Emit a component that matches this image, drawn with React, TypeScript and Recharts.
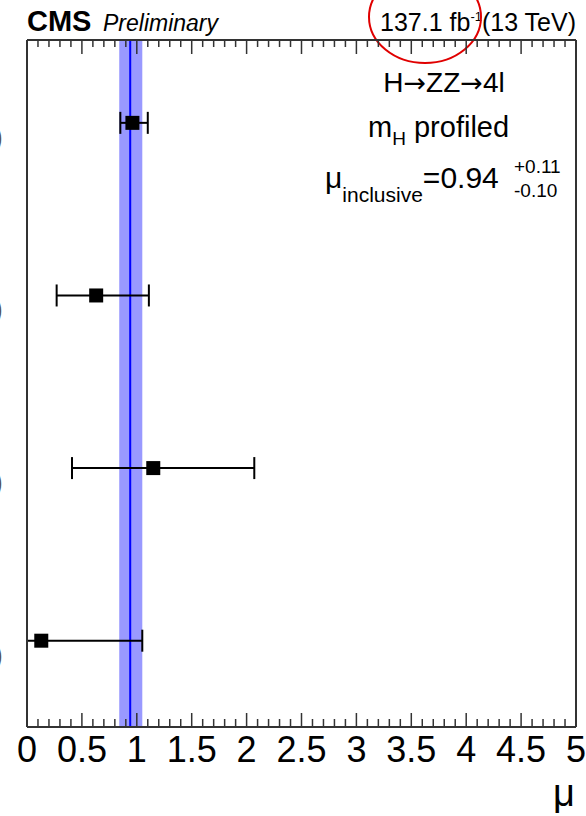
import React from "react";
import { ScatterChart, Scatter, XAxis, YAxis, ErrorBar, ReferenceArea, ReferenceLine } from "recharts";

const font = "'Liberation Sans', Arial, Helvetica, sans-serif";

// rows from top to bottom; only the closing brackets of the row labels are visible
const rowLabels = [")", ")", ")", ")"];
const rowPos = [4, 3, 2, 1];
const muValues = [0.96, 0.63, 1.15, 0.13];
const muLow = [0.85, 0.27, 0.41, 0.0];
const muHigh = [1.1, 1.11, 2.07, 1.05];

const muInclusive = 0.94;
const muInclusiveDown = 0.1;
const muInclusiveUp = 0.11;

const majorTicks = [0, 0.5, 1, 1.5, 2, 2.5, 3, 3.5, 4, 4.5, 5];
const allTicks = Array.from({ length: 51 }, (_, i) => i / 10);
const rowDomain = [0.5, 4.48];

const points = muValues.map((mu, i) => ({
  mu,
  row: rowPos[i],
  err: [mu - muLow[i], muHigh[i] - mu],
}));

const frameTop = 40;
const frameBottom = 727;
const rowPerPx = (rowDomain[1] - rowDomain[0]) / (frameBottom - frameTop);
const isMajor = (v: number) => majorTicks.some((m) => Math.abs(m - v) < 1e-6);

function BottomTick({ x, y, payload }: any) {
  const major = isMajor(payload.value);
  return (
    <g>
      <line x1={x} x2={x} y1={y} y2={y - (major ? 14 : 8)} stroke="#333" strokeWidth={1.5} />
      {major && (
        <text x={x} y={y + 35} textAnchor="middle" fontSize={36} fontFamily={font} fill="#000">
          {String(payload.value)}
        </text>
      )}
    </g>
  );
}

function RowTick({ y, payload }: any) {
  return (
    <text x={3} y={y + 24} textAnchor="end" fontSize={30} fontFamily={font} fill="#555">
      {rowLabels[rowPos.indexOf(payload.value)]}
    </text>
  );
}

const Square = ({ cx, cy }: any) => <rect x={cx - 7} y={cy - 7} width={14} height={14} fill="#000" />;

const arrow = (
  <tspan fontFamily="'DejaVu Sans', sans-serif" fontSize={27}>
    →
  </tspan>
);

export default function App() {
  return (
    <div style={{ position: "absolute", left: 0, top: 0, width: 586, height: 816, background: "#fff" }}>
      <svg width={586} height={816} style={{ position: "absolute", left: 0, top: 0 }} fontFamily={font}>
        <text x={27} y={31} fontSize={29} fontWeight="bold">CMS</text>
        <text x={103} y={31} fontSize={23} fontStyle="italic">Preliminary</text>
        <text x={576} y={31} fontSize={25} textAnchor="end">
          137.1 fb<tspan dy={-10} fontSize={13}>-1</tspan>
          <tspan dy={10}>(13 TeV)</tspan>
        </text>
        <ellipse cx={425} cy={17} rx={56} ry={46} fill="none" stroke="#e00000" strokeWidth={2} />
        <text x={444} y={92} fontSize={28} textAnchor="middle">
          H{arrow}ZZ{arrow}4l
        </text>
        <text x={368} y={137} fontSize={29}>
          m<tspan dy={8} fontSize={19}>H</tspan>
          <tspan dy={-8}> profiled</tspan>
        </text>
        <text x={325} y={188} fontSize={30}>
          μ<tspan dy={14} fontSize={21}>inclusive</tspan>
          <tspan dy={-14}>={muInclusive.toFixed(2)}</tspan>
        </text>
        <text x={514} y={173} fontSize={19}>+{muInclusiveUp.toFixed(2)}</text>
        <text x={514} y={197} fontSize={19}>-{muInclusiveDown.toFixed(2)}</text>
        <text x={575} y={806} fontSize={38} textAnchor="end">μ</text>
      </svg>
      <div style={{ position: "absolute", left: 0, top: 0 }}>
        <ScatterChart width={586} height={816} margin={{ top: frameTop, right: 0, bottom: 0, left: 0 }}>
          <XAxis
            type="number"
            dataKey="mu"
            domain={[0, 5]}
            allowDataOverflow
            ticks={allTicks}
            interval={0}
            height={816 - frameBottom}
            tickSize={0}
            tickMargin={0}
            tickLine={false}
            tick={<BottomTick />}
            axisLine={{ stroke: "#333", strokeWidth: 2 }}
          />
          <YAxis
            type="number"
            dataKey="row"
            domain={rowDomain}
            allowDataOverflow
            ticks={rowPos}
            interval={0}
            width={27}
            tickSize={0}
            tickMargin={0}
            tickLine={false}
            tick={<RowTick />}
            axisLine={{ stroke: "#333", strokeWidth: 2 }}
          />
          <YAxis
            yAxisId="r"
            orientation="right"
            type="number"
            domain={rowDomain}
            width={10}
            tick={false}
            tickLine={false}
            axisLine={{ stroke: "#333", strokeWidth: 2 }}
          />
          <ReferenceArea
            x1={muInclusive - muInclusiveDown}
            x2={muInclusive + muInclusiveUp}
            fill="#9999ff"
            fillOpacity={1}
            stroke="none"
          />
          <ReferenceLine x={muInclusive} stroke="#0000ff" strokeWidth={2} />
          <ReferenceLine y={rowDomain[1]} stroke="#333" strokeWidth={2} />
          {allTicks.map((v) => (
            <ReferenceLine
              key={v}
              ifOverflow="visible"
              segment={[
                { x: v, y: rowDomain[1] },
                { x: v, y: rowDomain[1] - (isMajor(v) ? 14 : 7) * rowPerPx },
              ]}
              stroke="#333"
              strokeWidth={1.5}
            />
          ))}
          <Scatter data={points} shape={<Square />} isAnimationActive={false}>
            <ErrorBar dataKey="err" direction="x" width={11} stroke="#000" strokeWidth={2} />
          </Scatter>
        </ScatterChart>
      </div>
    </div>
  );
}
